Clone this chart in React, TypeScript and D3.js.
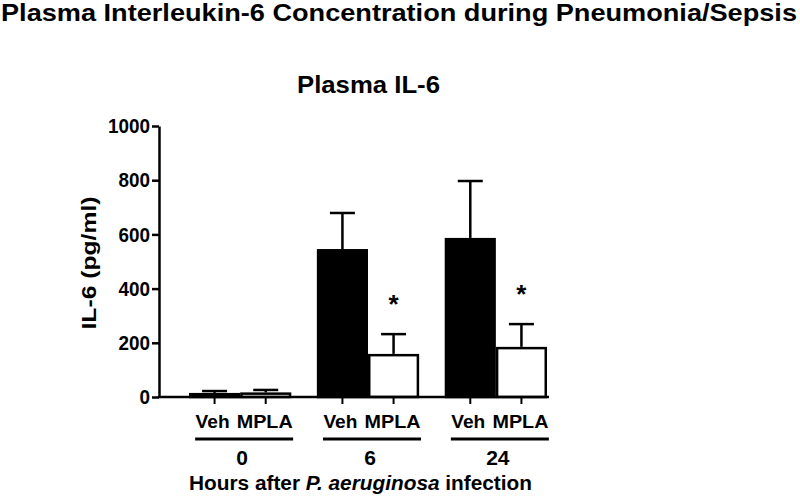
import * as d3 from 'd3';
import { useEffect, useRef } from 'react';

const timepoints = ['0', '6', '24'];
const treatments = ['Veh', 'MPLA'];
const vehMean = [15, 546, 587];
const vehSem = [7, 133, 210];
const mplaMean = [17, 159, 185];
const mplaSem = [9, 73, 84];
const significant = [false, true, true];
const yTicks = [0, 200, 400, 600, 800, 1000];

const FONT = 'Liberation Sans, Arial, sans-serif';

const App = () => {
  const svgRef = useRef<SVGSVGElement>(null);

  useEffect(() => {
    const svg = d3.select(svgRef.current);
    svg.selectAll('*').remove();

    const axisX = 159;
    const y = d3.scaleLinear().domain([0, 1000]).range([397, 126]);

    const x = d3.scaleBand()
      .domain(timepoints)
      .range([189, 547])
      .paddingInner(0.2)
      .paddingOuter(0);

    const xInner = d3.scaleBand()
      .domain(treatments)
      .range([0, x.bandwidth()])
      .padding(0);

    // titles
    svg.append('text')
      .attr('x', 1)
      .attr('y', 21)
      .attr('textLength', 796)
      .attr('lengthAdjust', 'spacingAndGlyphs')
      .style('font', `bold 24px ${FONT}`)
      .text('Plasma Interleukin-6 Concentration during Pneumonia/Sepsis');

    svg.append('text')
      .attr('x', 297)
      .attr('y', 93)
      .attr('textLength', 143)
      .attr('lengthAdjust', 'spacingAndGlyphs')
      .style('font', `bold 24px ${FONT}`)
      .text('Plasma IL-6');

    // bars
    const rows = timepoints.flatMap((t, i) => [
      { t, trt: 'Veh', mean: vehMean[i], sem: vehSem[i], star: false },
      { t, trt: 'MPLA', mean: mplaMean[i], sem: mplaSem[i], star: significant[i] },
    ]);

    const sw = 2.5;
    const g = svg.append('g');

    rows.forEach(d => {
      const x0 = (x(d.t) as number) + (xInner(d.trt) as number);
      const w = xInner.bandwidth();
      const cx = x0 + w / 2;
      // error bar (upper only)
      g.append('line')
        .attr('x1', cx).attr('x2', cx)
        .attr('y1', y(d.mean)).attr('y2', y(d.mean + d.sem))
        .attr('stroke', '#000').attr('stroke-width', sw);
      g.append('line')
        .attr('x1', cx - 12.5).attr('x2', cx + 12.5)
        .attr('y1', y(d.mean + d.sem)).attr('y2', y(d.mean + d.sem))
        .attr('stroke', '#000').attr('stroke-width', sw);
      g.append('rect')
        .attr('x', x0 + sw / 2)
        .attr('y', y(d.mean) + sw / 2)
        .attr('width', w - sw)
        .attr('height', Math.max(0, y(0) - y(d.mean) - sw / 2))
        .attr('fill', d.trt === 'Veh' ? '#000' : '#fff')
        .attr('stroke', '#000')
        .attr('stroke-width', sw);
      if (d.star) {
        g.append('text')
          .attr('x', cx)
          .attr('y', y(d.mean + d.sem) - 21)
          .attr('text-anchor', 'middle')
          .style('font', `bold 26px ${FONT}`)
          .text('*');
      }
      // x tick
      g.append('line')
        .attr('x1', cx).attr('x2', cx)
        .attr('y1', y(0)).attr('y2', y(0) + 7)
        .attr('stroke', '#000').attr('stroke-width', 2);
      g.append('text')
        .attr('x', d.trt === 'Veh' ? cx - 2 : cx - 1)
        .attr('y', 428)
        .attr('text-anchor', 'middle')
        .style('font', `bold 19px ${FONT}`)
        .attr('textLength', d.trt === 'Veh' ? 34 : 56)
        .attr('lengthAdjust', 'spacingAndGlyphs')
        .text(d.trt);
    });

    // y axis
    const yAxis = svg.append('g')
      .attr('transform', `translate(${axisX},0)`)
      .call(d3.axisLeft(y).tickValues(yTicks).tickFormat(d3.format('d')).tickSize(7).tickSizeOuter(0).tickPadding(2));
    yAxis.select('.domain').attr('stroke-width', 2.5);
    yAxis.selectAll('.tick line').attr('stroke-width', 2.5);
    yAxis.selectAll<SVGTextElement, number>('.tick text')
      .style('font', `bold 21px ${FONT}`)
      .attr('fill', '#000')
      .attr('textLength', d => String(d).length * 10.5)
      .attr('lengthAdjust', 'spacingAndGlyphs');

    // x baseline
    svg.append('line')
      .attr('x1', axisX - 1).attr('x2', 549)
      .attr('y1', y(0)).attr('y2', y(0))
      .attr('stroke', '#000').attr('stroke-width', 2.5);

    // group underlines and labels
    timepoints.forEach(t => {
      const c = (x(t) as number) + x.bandwidth() / 2;
      svg.append('line')
        .attr('x1', c - 45).attr('x2', c + 53)
        .attr('y1', 439).attr('y2', 439)
        .attr('stroke', '#000').attr('stroke-width', 3);
      svg.append('text')
        .attr('x', c + 2)
        .attr('y', 465)
        .attr('text-anchor', 'middle')
        .style('font', `bold 21px ${FONT}`)
        .text(t);
    });

    const xl = svg.append('text')
      .attr('x', 189)
      .attr('y', 490)
      .attr('textLength', 343)
      .attr('lengthAdjust', 'spacingAndGlyphs')
      .style('font', `bold 20px ${FONT}`);
    xl.append('tspan').text('Hours after ');
    xl.append('tspan').style('font-style', 'italic').text('P. aeruginosa');
    xl.append('tspan').text(' infection');

    svg.append('text')
      .attr('transform', `translate(96,263) rotate(-90)`)
      .attr('text-anchor', 'middle')
      .attr('textLength', 133)
      .attr('lengthAdjust', 'spacingAndGlyphs')
      .style('font', `bold 20px ${FONT}`)
      .text('IL-6 (pg/ml)');
  }, []);

  return (
    <svg ref={svgRef} width={800} height={500} style={{ position: 'absolute', left: 0, top: 0, background: '#fff' }} />
  );
};

export default App;
